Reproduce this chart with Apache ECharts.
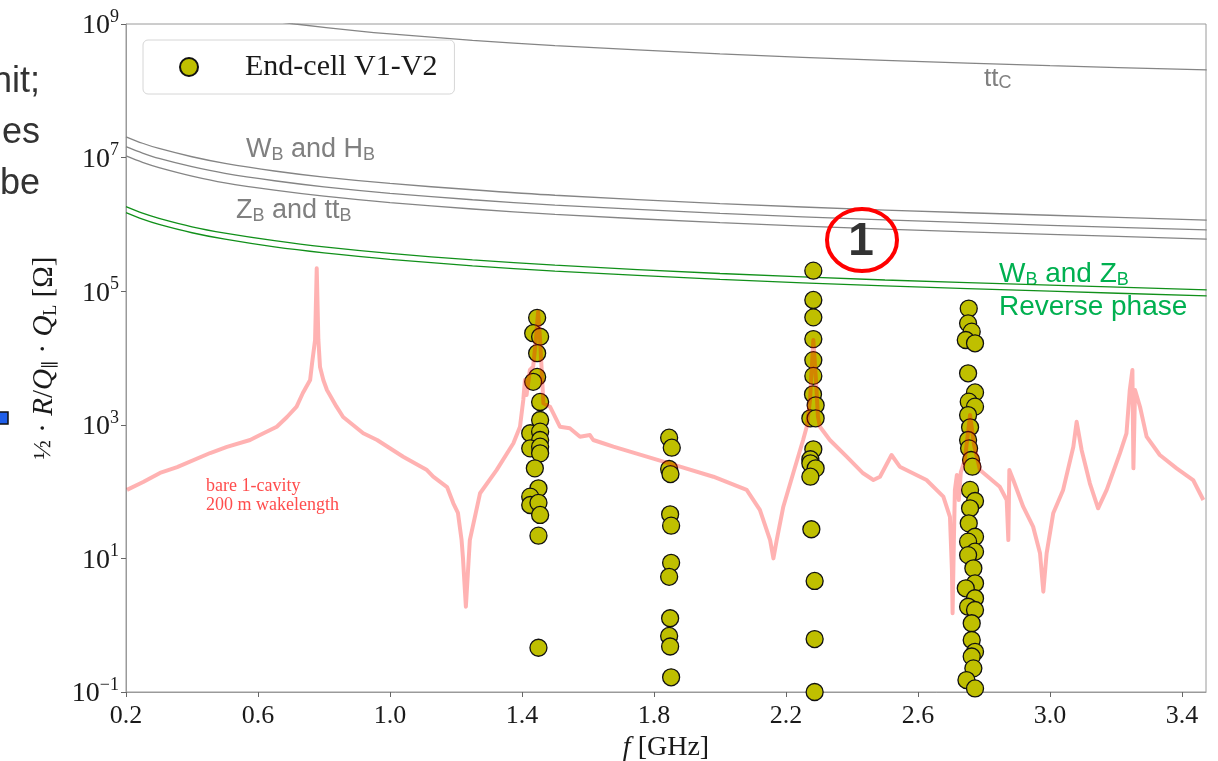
<!DOCTYPE html>
<html>
<head>
<meta charset="utf-8">
<script src="https://cdn.jsdelivr.net/npm/echarts@6/dist/echarts.min.js"></script>
<style>
html,body{margin:0;padding:0;background:#fff;}
#chart{width:1218px;height:761px;}
</style>
</head>
<body>
<div id="chart"></div>
<script>
// ---------- data ----------
const seriesName = 'End-cell V1-V2';

// End-cell V1-V2 modes: frequency [GHz] and 1/2 R/Q * QL [Ohm]
const endcellFreq = [
  1.446,1.434,1.455,1.446,1.446,1.434,1.455,1.455,1.425,1.455,1.455,1.425,1.455,1.455,1.439,1.450,1.425,1.425,1.450,1.455,1.450,1.450,
  1.846,1.854,1.846,1.850,1.849,1.852,1.852,1.846,1.849,1.846,1.849,1.852,
  2.283,2.283,2.283,2.283,2.283,2.283,2.282,2.290,2.274,2.290,2.283,2.274,2.274,2.290,2.274,2.277,2.287,2.287,2.287,
  2.754,2.752,2.763,2.745,2.773,2.752,2.773,2.754,2.773,2.752,2.758,2.752,2.755,2.761,2.765,2.758,2.773,2.758,2.754,2.773,2.752,2.773,2.752,2.768,2.773,2.745,2.773,2.752,2.773,2.763,2.763,2.773,2.763,2.768,2.747,2.773
];
const endcellVal = [
  4.0e4,2.35e4,2.08e4,1.18e4,5.2e3,4.4e3,2.2e3,1.18e3,747,789,592,444,470,374,223,112,84,63,68,44.7,21.9,0.46,
  641,454,218,183,45.7,30.9,8.6,5.3,1.27,0.69,0.48,0.166,
  2.03e5,7.4e4,4.06e4,1.92e4,9.3e3,5.4e3,2.86e3,1.96e3,1.25e3,1.25e3,430,305,265,223,167,27.3,4.6,0.62,0.1,
  5.5e4,3.3e4,2.48e4,1.86e4,1.66e4,5.9e3,3.05e3,2.22e3,1.87e3,1.40e3,918,592,444,297,236,106,72.3,56.2,33.5,21.1,17.8,12.6,11.2,7.1,4.24,3.57,2.53,1.89,1.69,1.07,0.60,0.40,0.34,0.226,0.151,0.113
];

// bare 1-cavity, 200 m wakelength
const wakeFreq = [
  0.203,0.252,0.303,0.355,0.455,0.506,0.576,0.606,0.657,0.688,0.717,0.736,0.758,0.764,0.773,0.778,0.783,0.788,0.798,0.809,
  0.838,0.858,0.919,0.961,1.040,1.112,1.131,1.173,1.192,1.206,1.217,1.221,1.230,1.242,1.273,
  1.323,1.374,1.394,1.404,1.409,1.414,1.424,1.434,1.442,1.449,1.455,1.465,1.485,1.515,1.545,1.576,1.606,1.616,1.646,1.677,
  1.778,1.879,1.980,2.081,2.121,2.152,2.162,2.172,2.192,2.222,2.252,2.263,2.273,2.283,2.291,2.297,2.303,2.333,2.384,2.434,
  2.465,2.485,2.520,2.545,2.626,2.677,2.697,2.703,2.705,2.709,2.712,2.718,2.724,2.730,2.742,2.758,2.770,2.788,2.848,2.869,
  2.874,2.877,2.889,2.919,2.949,2.970,2.980,2.990,3.010,3.040,3.071,3.081,3.096,3.121,3.146,3.172,3.212,3.232,3.242,3.250,
  3.253,3.258,3.273,3.293,3.333,3.384,3.434,3.465
];
const wakeVal = [
  106,139,190,233,378,466,592,703,937,1309,1866,2992,4690,8414,1.86e4,2.2e5,1.86e4,7330,4690,3320,
  1866,1309,746,592,333,210,167,117,66.8,47.9,18.8,10.5,1.89,18.8,94.4,
  210,529,937,2350,4690,2790,6610,7410,1.86e4,4.93e4,1.86e4,2100,1866,937,887,664,703,592,529,470,
  333,236,167,106,53.1,18.8,10.0,18.8,59.4,188,592,937,2350,1.86e4,4690,1321,937,592,333,188,
  149,167,353,236,149,84,42,6.7,1.51,18.8,106,177,74.8,196,297,1400,499,210,118,74.8,
  18.8,210,149,59.4,29.9,11.9,3.18,11.9,47.3,106,470,1112,420,133,56.2,106,374,746,3320,6610,
  223,3320,1866,664,353,223,149,74.8
];

// threshold curves
const boundFreq = [0.2,0.25,0.3,0.4,0.5,0.65,0.8,1.0,1.25,1.5,2.0,2.5,3.0,3.475];
const wbLine   = [2.05e7,1.64e7,1.37e7,1.03e7,8.2e6,6.3e6,5.1e6,4.1e6,3.3e6,2.73e6,2.05e6,1.64e6,1.37e6,1.16e6];
const hbLine   = [1.46e7,1.17e7,9.7e6,7.3e6,5.8e6,4.5e6,3.65e6,2.92e6,2.34e6,1.95e6,1.46e6,1.17e6,9.7e5,8.3e5];
const zbLine   = [1.06e7,8.5e6,7.1e6,5.3e6,4.2e6,3.26e6,2.65e6,2.12e6,1.70e6,1.41e6,1.06e6,8.5e5,7.1e5,6.0e5];
const revLineA = [1.84e6,1.47e6,1.23e6,9.2e5,7.4e5,5.7e5,4.6e5,3.68e5,2.94e5,2.45e5,1.84e5,1.47e5,1.23e5,1.05e5];
const revLineB = [1.5e6,1.2e6,1.0e6,7.5e5,6.0e5,4.6e5,3.75e5,3.0e5,2.4e5,2.0e5,1.5e5,1.2e5,1.0e5,8.5e4];
const ttcFreq  = [0.6,0.713,0.9,1.0,1.25,1.5,2.0,2.5,3.0,3.475];
const ttcLine  = [1.19e9,1.0e9,7.9e8,7.1e8,5.7e8,4.75e8,3.56e8,2.85e8,2.38e8,2.05e8];

// axis ticks
const xMin = 0.2, xMax = 3.473, xStep = 0.4;
const yMin = 0.1, yMax = 1e9, yDecadeStep = 2;

// ---------- build ----------
const zip = (a, b) => a.map((v, i) => [v, b[i]]);
const SERIF = '"Liberation Serif","DejaVu Serif",serif';
const SANS = '"Liberation Sans",Arial,sans-serif';

function supLabel(v) {
  const e = Math.round(Math.log10(v));
  const s = e < 0 ? '\u2212' + Math.abs(e) : String(e);
  return '{b|10}{e|' + s + '}';
}

function grayLine(data) {
  return {type:'line', data, showSymbol:false, silent:true, smooth:0.3, z:1,
          lineStyle:{color:'#858585', width:1.3}};
}
function greenLine(data) {
  return {type:'line', data, showSymbol:false, silent:true, smooth:0.3, z:1,
          lineStyle:{color:'#11901a', width:1.3}};
}
function subRich(color, size, subSize) {
  return {n:{fontFamily:SANS, fontSize:size, fill:color, lineHeight:size + 1, verticalAlign:'top'},
          s:{fontFamily:SANS, fontSize:subSize, fill:color, lineHeight:12, verticalAlign:'bottom'}};
}

const chart = echarts.init(document.getElementById('chart'), null, {renderer:'canvas'});
chart.setOption({
  animation:false,
  backgroundColor:'#ffffff',
  grid:{left:126, right:12, top:24, bottom:69, show:true, borderColor:'#9a9a9a', borderWidth:1,
        backgroundColor:'transparent', containLabel:false, outerBoundsMode:'none'},
  legend:{
    data:[seriesName], left:143, top:40,
    padding:[11,17,11,36],
    itemWidth:18, itemHeight:18,
    backgroundColor:'#ffffff', borderColor:'#d6d6d6', borderWidth:1, borderRadius:5,
    textStyle:{fontFamily:SERIF, fontSize:30, color:'#1a1a1a', padding:[0,0,0,42], lineHeight:32}
  },
  xAxis:{
    type:'value', min:xMin, max:xMax, interval:xStep,
    axisLine:{lineStyle:{color:'#9a9a9a'}},
    axisTick:{show:true, length:5, lineStyle:{color:'#666'}},
    splitLine:{show:false},
    axisLabel:{fontFamily:SERIF, fontSize:26, color:'#1a1a1a', margin:11, showMaxLabel:false,
               formatter:v => v.toFixed(1)},
    name:'{i|f}{n|\u00A0[GHz]}', nameLocation:'middle', nameGap:38,
    nameTextStyle:{rich:{i:{fontFamily:SERIF, fontStyle:'italic', fontSize:28, color:'#1a1a1a'},
                         n:{fontFamily:SERIF, fontSize:28, color:'#1a1a1a'}}}
  },
  yAxis:{
    type:'log', logBase:10, min:yMin, max:yMax, interval:yDecadeStep,
    axisLine:{show:true, lineStyle:{color:'#9a9a9a'}},
    axisTick:{show:true, length:5, lineStyle:{color:'#666'}},
    minorTick:{show:false},
    splitLine:{show:false},
    axisLabel:{margin:7, formatter:supLabel,
      rich:{b:{fontFamily:SERIF, fontSize:28, color:'#1a1a1a', lineHeight:32, verticalAlign:'bottom'},
            e:{fontFamily:SERIF, fontSize:18, color:'#1a1a1a', lineHeight:18, verticalAlign:'top'}}},
    name:'{f|\u00BD}{n| \u00B7 }{i|R}{n|/}{i|Q}{s|\u2225}{n| \u00B7 }{i|Q}{s|L}{n| [\u03A9]}',
    nameLocation:'middle', nameRotate:90, nameGap:66,
    nameTextStyle:{rich:{
      f:{fontFamily:SERIF, fontSize:26, color:'#1a1a1a', lineHeight:30, verticalAlign:'top'},
      n:{fontFamily:SERIF, fontSize:29, color:'#1a1a1a', lineHeight:30, verticalAlign:'top'},
      i:{fontFamily:SERIF, fontStyle:'italic', fontSize:29, color:'#1a1a1a', lineHeight:30, verticalAlign:'top'},
      s:{fontFamily:SERIF, fontSize:18, color:'#1a1a1a', lineHeight:12, verticalAlign:'bottom'}}}
  },
  series:[
    grayLine(zip(boundFreq, wbLine)),
    grayLine(zip(boundFreq, hbLine)),
    grayLine(zip(boundFreq, zbLine)),
    grayLine(zip(ttcFreq, ttcLine)),
    greenLine(zip(boundFreq, revLineA)),
    greenLine(zip(boundFreq, revLineB)),
    {name:seriesName, type:'scatter', data:zip(endcellFreq, endcellVal), symbol:'circle', symbolSize:17, z:2,
     itemStyle:{color:'#bfbf00', borderColor:'#111', borderWidth:1.3, opacity:1}},
    {name:'bare', type:'line', data:zip(wakeFreq, wakeVal), showSymbol:false, silent:true, z:3,
     lineStyle:{color:'rgba(255,0,0,0.3)', width:4, join:'round'}}
  ],
  graphic:[
    // cropped slide text on the left
    {type:'text', style:{x:40, y:82, text:'nit;', align:'right', verticalAlign:'middle',
      font:'36px ' + SANS, fill:'#333'}},
    {type:'text', style:{x:40, y:133, text:'es', align:'right', verticalAlign:'middle',
      font:'36px ' + SANS, fill:'#333'}},
    {type:'text', style:{x:40, y:184, text:'be', align:'right', verticalAlign:'middle',
      font:'36px ' + SANS, fill:'#333'}},
    {type:'rect', shape:{x:-2, y:412, width:10, height:12}, style:{fill:'#1f5ee8', stroke:'#111', lineWidth:1.5}},
    // curve labels
    {type:'text', style:{x:246, y:150, verticalAlign:'middle', text:'{n|W}{s|B}{n| and H}{s|B}',
      rich:subRich('#808080', 27, 18)}},
    {type:'text', style:{x:236, y:211, verticalAlign:'middle', text:'{n|Z}{s|B}{n| and tt}{s|B}',
      rich:subRich('#808080', 27, 18)}},
    {type:'text', style:{x:984, y:79, verticalAlign:'middle', text:'{n|tt}{s|C}',
      rich:subRich('#808080', 26, 18)}},
    {type:'text', style:{x:999, y:275, verticalAlign:'middle', text:'{n|W}{s|B}{n| and Z}{s|B}',
      rich:subRich('#00b050', 28, 18)}},
    {type:'text', style:{x:999, y:307, verticalAlign:'middle', text:'Reverse phase',
      font:'28px ' + SANS, fill:'#00b050'}},
    // annotation "1"
    {type:'ellipse', shape:{cx:862, cy:240, rx:35, ry:31}, style:{fill:'none', stroke:'#ff0000', lineWidth:4}, z:10},
    {type:'text', style:{x:861, y:242, text:'1', align:'center', verticalAlign:'middle',
      font:'bold 46px ' + SANS, fill:'#333'}, z:10},
    // bare-cavity label
    {type:'text', style:{x:206, y:496, verticalAlign:'middle', text:'bare 1-cavity\n200 m wakelength',
      font:'18px ' + SERIF, fill:'#ff4d4d', lineHeight:19}}
  ]
});
</script>
</body>
</html>
